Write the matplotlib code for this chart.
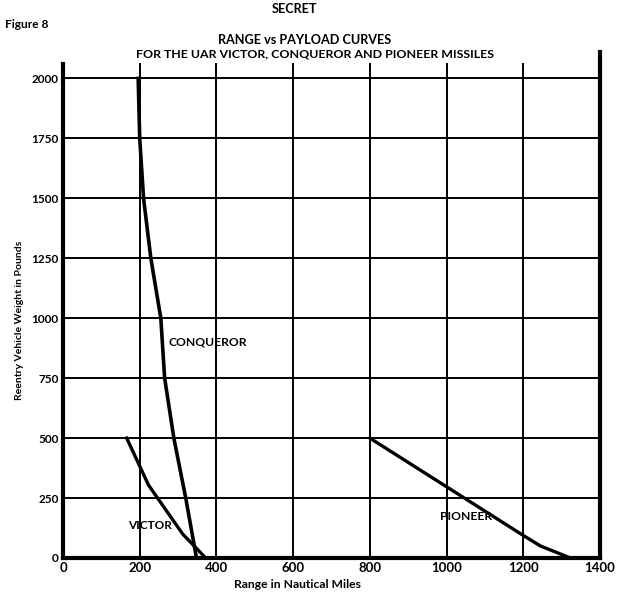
import matplotlib
matplotlib.use("Agg")
import matplotlib.pyplot as plt

# ---- data ----
conqueror_x = [196, 200, 210, 229, 255, 265, 289, 320, 348]
conqueror_y = [2000, 1750, 1500, 1250, 1000, 750, 500, 250, 0]
victor_x = [166, 223, 312, 342, 372]
victor_y = [500, 304, 100, 50, 0]
pioneer_x = [800, 1000, 1200, 1245, 1323]
pioneer_y = [500, 297, 94, 50, 0]
x_ticks = [0, 200, 400, 600, 800, 1000, 1200, 1400]
y_ticks = [0, 250, 500, 750, 1000, 1250, 1500, 1750, 2000]

plt.rcParams['font.family'] = ['Lato', 'DejaVu Sans']

fig = plt.figure(figsize=(6.19, 5.92), dpi=100)
ax = fig.add_axes([63/619, 34/592, 537/619, 494/592])
ax.set_xlim(0, 1400)
ax.set_ylim(0, 2060)

# grid
for xv in x_ticks[1:-1]:
    ax.plot([xv, xv], [0, 2060], color='black', lw=1.4, clip_on=False, zorder=1)
for yv in y_ticks[1:]:
    ax.plot([0, 1400], [yv, yv], color='black', lw=1.4, zorder=1)

# spines
for s in ['top', 'right']:
    ax.spines[s].set_visible(False)
ax.spines['left'].set_linewidth(3)
ax.spines['bottom'].set_linewidth(3)
ax.plot([1400, 1400], [0, 2110], color='black', lw=3, clip_on=False, zorder=3)

# curves
ax.plot(conqueror_x, conqueror_y, color='black', lw=2.6, zorder=4)
ax.plot(victor_x, victor_y, color='black', lw=2.4, zorder=4)
ax.plot(pioneer_x, pioneer_y, color='black', lw=2.4, zorder=4, clip_on=False)

ax.text(274, 900, 'CONQUEROR', fontsize=8.7, fontweight='bold', va='center', ha='left')
ax.text(170, 137, 'VICTOR', fontsize=8.5, fontweight='bold', va='center', ha='left')
ax.text(983, 171, 'PIONEER', fontsize=8.7, fontweight='bold', va='center', ha='left')

ax.set_xticks(x_ticks)
ax.set_yticks(y_ticks)
ax.set_xticklabels([str(v) for v in x_ticks], fontsize=9.5, fontweight='bold')
ax.set_yticklabels([str(v) for v in y_ticks], fontsize=8.5, fontweight='bold')
ax.tick_params(length=0, pad=3)

ax.set_xlabel('Range in Nautical Miles', fontsize=8.7, fontweight='bold')
ax.xaxis.set_label_coords((297 - 63) / 537, -(584 - 558) / 494)
ax.xaxis.label.set_va('center')
ax.set_ylabel('Reentry Vehicle Weight in Pounds', fontsize=7.5, fontweight='bold')
ax.yaxis.set_label_coords((20 - 63) / 537, (558 - 320) / 494)
ax.yaxis.label.set_va('center')

fig.text(295/619, 1 - 9/592, 'SECRET', fontsize=9.1, fontweight='bold', ha='center', va='center')
fig.text(5/619, 1 - 24/592, 'Figure 8', fontsize=8.6, fontweight='bold', ha='left', va='center')
fig.text(305/619, 1 - 40/592, 'RANGE vs PAYLOAD CURVES', fontsize=9.1, fontweight='bold', ha='center', va='center')
fig.text(315/619, 1 - 54/592, 'FOR THE UAR VICTOR, CONQUEROR AND PIONEER MISSILES', fontsize=8.9, fontweight='bold', ha='center', va='center')

fig.savefig('out.png', dpi=100)
